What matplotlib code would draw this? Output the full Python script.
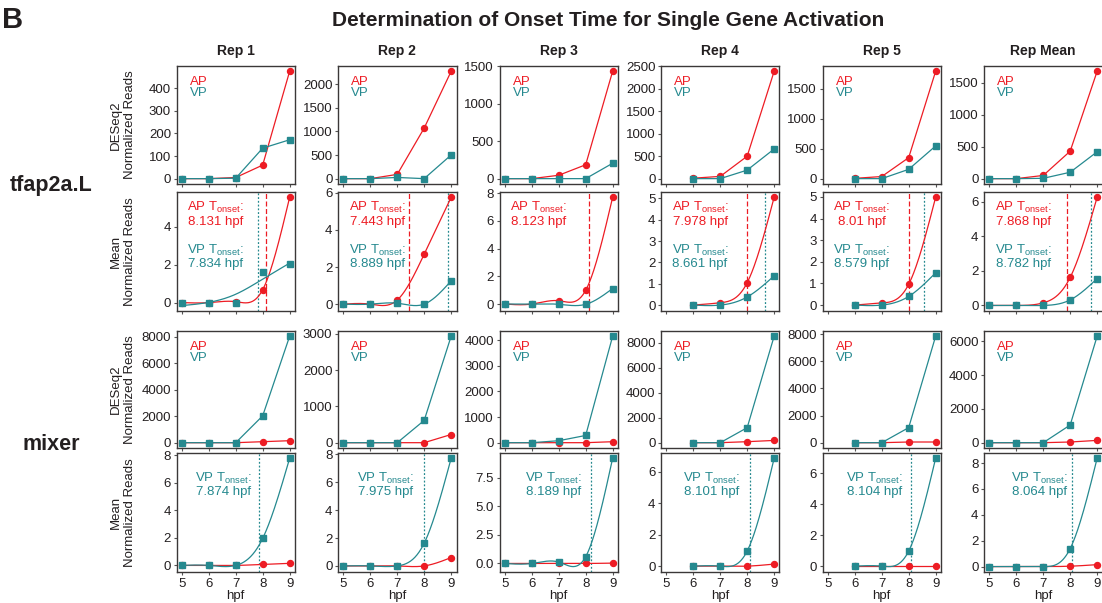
import numpy as np
import matplotlib
matplotlib.use('Agg')
import matplotlib.pyplot as plt
from matplotlib.ticker import MultipleLocator, FormatStrFormatter

plt.rcParams['font.family'] = ['Liberation Sans', 'DejaVu Sans']
plt.rcParams['mathtext.default'] = 'regular'

# data
hpf = [5, 6, 7, 8, 9]
reps = ['Rep 1', 'Rep 2', 'Rep 3', 'Rep 4', 'Rep 5', 'Rep Mean']
genes = ['tfap2a.L', 'mixer']

tfap_deseq_ap = [[0, 0, 5, 60, 475], [0, 0, 90, 1070, 2270], [0, 0, 45, 185, 1430],
                 [None, 10, 50, 500, 2390], [None, 5, 35, 350, 1790], [0, 0, 50, 430, 1680]]
tfap_deseq_vp = [[0, 0, 2, 135, 172], [0, 0, 25, 0, 500], [0, 0, 0, 0, 205],
                 [None, 0, 0, 190, 660], [None, 0, 0, 155, 545], [0, 0, 5, 100, 420]]
tfap_mean_ap = [[0, 0, 0.05, 0.68, 5.55], [0, 0, 0.22, 2.69, 5.75], [0, 0, 0.24, 0.99, 7.7],
                [None, 0, 0.11, 1.05, 5.05], [None, 0, 0.1, 0.96, 4.98], [0, 0, 0.15, 1.62, 6.25]]
tfap_mean_vp = [[0, 0, -0.03, 1.6, 2.05], [0, 0, 0.05, 0, 1.25], [0, 0, -0.02, -0.02, 1.12],
                [None, 0, 0, 0.38, 1.37], [None, 0, 0, 0.4, 1.49], [0, 0, 0, 0.32, 1.55]]
tfap_onset_ap = [8.131, 7.443, 8.123, 7.978, 8.01, 7.868]
tfap_onset_vp = [7.834, 8.889, None, 8.661, 8.579, 8.782]

mixer_deseq_ap = [[0, 0, 0, 75, 150], [0, 0, 0, 0, 225], [0, 0, 0, 0, 38],
                  [None, 0, 0, 80, 180], [None, 0, 0, 50, 50], [0, 0, 0, 40, 135]]
mixer_deseq_vp = [[0, 0, 0, 2030, 8050], [0, 0, 0, 613, 2928], [0, 0, 77, 282, 4150],
                  [None, 0, 0, 1200, 8500], [None, 0, 0, 1110, 7850], [0, 0, 0, 1045, 6290]]
mixer_mean_ap = [[0, 0, 0, 0.07, 0.15], [0, 0, 0, 0, 0.6], [0, 0, 0, 0, 0.03],
                 [None, 0, 0, 0, 0.13], [None, 0, 0, 0, 0], [0, 0, 0, 0.03, 0.15]]
mixer_mean_vp = [[0, 0, 0, 1.96, 7.76], [0, 0, 0, 1.63, 7.71], [0, 0, 0.12, 0.59, 9.2],
                 [None, 0, 0, 0.96, 6.85], [None, 0, 0, 0.97, 6.97], [0, 0, 0, 1.39, 8.36]]
mixer_onset_vp = [7.874, 7.975, 8.189, 8.101, 8.104, 8.064]

# y tick steps per row
steps = [[100, 500, 500, 500, 500, 500],
         [2, 2, 2, 1, 1, 2],
         [2000, 1000, 1000, 2000, 2000, 2000],
         [2, 2, 2.5, 2, 2, 2]]

AP_COL = '#ED1C24'
VP_COL = '#25898F'
TXT = '#231F20'
EDGE = '#3b3838'


def smooth_curve(x, y, lam=0.0, num=200):
    # natural cubic smoothing spline (Reinsch), lam=0 -> interpolating
    x = np.asarray(x, float)
    y = np.asarray(y, float)
    n = len(x)
    h = np.diff(x)
    Q = np.zeros((n, n - 2))
    R = np.zeros((n - 2, n - 2))
    for j in range(1, n - 1):
        Q[j - 1, j - 1] = 1 / h[j - 1]
        Q[j, j - 1] = -1 / h[j - 1] - 1 / h[j]
        Q[j + 1, j - 1] = 1 / h[j]
        R[j - 1, j - 1] = (h[j - 1] + h[j]) / 3
        if j < n - 2:
            R[j - 1, j] = R[j, j - 1] = h[j] / 6
    K = Q @ np.linalg.solve(R, Q.T)
    g = np.linalg.solve(np.eye(n) + lam * K, y)
    gam = np.zeros(n)
    gam[1:-1] = np.linalg.solve(R, Q.T @ g)
    xs = np.linspace(x[0], x[-1], num)
    i = np.clip(np.searchsorted(x, xs) - 1, 0, n - 2)
    xl, xr = x[i], x[i + 1]
    hh = xr - xl
    f = ((xr - xs) * g[i] + (xs - xl) * g[i + 1]) / hh \
        - (xs - xl) * (xr - xs) / 6 * ((1 + (xs - xl) / hh) * gam[i + 1] + (1 + (xr - xs) / hh) * gam[i])
    return xs, f


def pts(vals):
    xx = [x for x, v in zip(hpf, vals) if v is not None]
    yy = [v for v in vals if v is not None]
    return xx, yy


W, H = 1102, 603
fig = plt.figure(figsize=(W / 100, H / 100), dpi=100)

col_left = [176.5 + i * 161.5 for i in range(6)]
col_w = 118.5
row_box = [(66, 184), (192, 311), (331, 448), (453, 572)]

fig.text(2 / W, 1 - 20 / H, 'B', fontsize=21, fontweight='bold', color=TXT, va='center', ha='left')
fig.text(608 / W, 1 - 21 / H, 'Determination of Onset Time for Single Gene Activation',
         fontsize=15, fontweight='bold', color=TXT, ha='center', va='center')
fig.text(51 / W, 1 - 185 / H, genes[0], fontsize=15.5, fontweight='bold', color=TXT, ha='center', va='center')
fig.text(51 / W, 1 - 445 / H, genes[1], fontsize=15.5, fontweight='bold', color=TXT, ha='center', va='center')

row_data = [(tfap_deseq_ap, tfap_deseq_vp), (tfap_mean_ap, tfap_mean_vp),
            (mixer_deseq_ap, mixer_deseq_vp), (mixer_mean_ap, mixer_mean_vp)]
ylabels = ['DESeq2\nNormalized Reads', 'Mean\nNormalized Reads',
           'DESeq2\nNormalized Reads', 'Mean\nNormalized Reads']
vp_text_x = [0.40, 0.40, 0.46, 0.43, 0.44, 0.465]

for r in range(4):
    top, bot = row_box[r]
    ap_all, vp_all = row_data[r]
    for c in range(6):
        ax = fig.add_axes([col_left[c] / W, 1 - bot / H, col_w / W, (bot - top) / H])
        xa, ya = pts(ap_all[c])
        xv, yv = pts(vp_all[c])
        if r in (0, 2):
            ax.plot(xa, ya, color=AP_COL, lw=0.9, marker='o', ms=4.3, zorder=3)
            ax.plot(xv, yv, color=VP_COL, lw=0.9, marker='s', ms=3.8, zorder=4)
            ax.text(0.11, 0.867, 'AP', color=AP_COL, fontsize=9.5, transform=ax.transAxes, va='center')
            ax.text(0.11, 0.772, 'VP', color=VP_COL, fontsize=9.5, transform=ax.transAxes, va='center')
        else:
            lam_vp = 0.6 if (r == 1 and c == 0) else 0.0
            sx, sy = smooth_curve(xa, ya)
            ax.plot(sx, sy, color=AP_COL, lw=0.9, zorder=3)
            sx, sy = smooth_curve(xv, yv, lam_vp)
            ax.plot(sx, sy, color=VP_COL, lw=0.9, zorder=4)
            ax.plot(xa, ya, 'o', color=AP_COL, ms=4.3, zorder=5)
            ax.plot(xv, yv, 's', color=VP_COL, ms=3.8, zorder=6)
            if r == 1:
                t_ap = tfap_onset_ap[c]
                t_vp = tfap_onset_vp[c]
                ax.axvline(t_ap, color=AP_COL, lw=0.9, ls=(0, (4, 2)), zorder=2)
                ax.text(0.33, 0.817, 'AP T$_{onset}$:\n' + f'{t_ap} hpf', color=AP_COL, fontsize=9.5,
                        transform=ax.transAxes, ha='center', va='center', multialignment='center',
                        linespacing=1.05)
                if t_vp is not None:
                    ax.axvline(t_vp, color=VP_COL, lw=0.9, ls=(0, (1.5, 1.5)), zorder=2)
                    ax.text(0.33, 0.458, 'VP T$_{onset}$:\n' + f'{t_vp} hpf', color=VP_COL, fontsize=9.5,
                            transform=ax.transAxes, ha='center', va='center', multialignment='center',
                            linespacing=1.05)
            else:
                t_vp = mixer_onset_vp[c]
                ax.axvline(t_vp, color=VP_COL, lw=0.9, ls=(0, (1.5, 1.5)), zorder=2)
                ax.text(vp_text_x[c], 0.737, 'VP T$_{onset}$:\n' + f'{t_vp} hpf', color=VP_COL, fontsize=9.5,
                        transform=ax.transAxes, ha='center', va='center', multialignment='center',
                        linespacing=1.05)

        ax.set_xlim(4.8, 9.2)
        ax.margins(y=0.05)
        ax.set_xticks(hpf)
        st = steps[r][c]
        ax.yaxis.set_major_locator(MultipleLocator(st))
        if st != int(st):
            ax.yaxis.set_major_formatter(FormatStrFormatter('%.1f'))
        else:
            ax.yaxis.set_major_formatter(FormatStrFormatter('%d'))
        ax.tick_params(direction='out', length=2.5, width=0.8, pad=1.5, labelsize=9.5,
                       color='#555555', labelcolor=TXT)
        for sp in ax.spines.values():
            sp.set_color(EDGE)
            sp.set_linewidth(1.0)
        if r < 3:
            ax.tick_params(labelbottom=False)
        else:
            ax.set_xlabel('hpf', fontsize=9.5, color=TXT, labelpad=0)
        if r == 0:
            ax.set_title(reps[c], fontsize=10, fontweight='bold', color=TXT, pad=8)

    fig.text(123 / W, 1 - (top + bot) / 2 / H, ylabels[r], rotation=90, fontsize=9.5, color=TXT,
             ha='center', va='center', multialignment='center', linespacing=1.3)

fig.savefig('out.png', dpi=100)
